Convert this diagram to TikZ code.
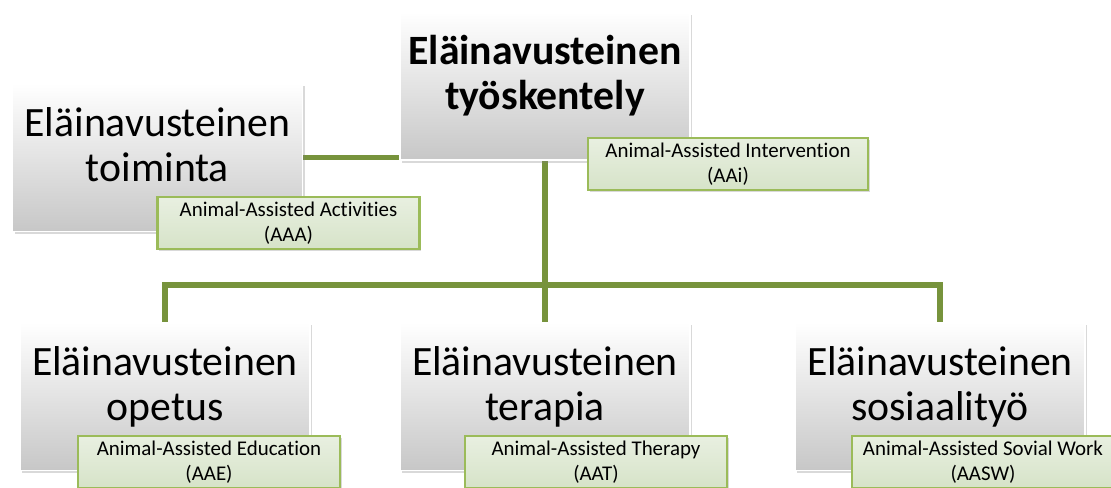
\documentclass[tikz,border=0pt]{standalone}
\usepackage{fontspec}
\setmainfont{Carlito}[Ligatures=NoCommon]
\usepackage{tikz}
\usetikzlibrary{positioning}
\usetikzlibrary{shadows}
\usetikzlibrary{backgrounds}

\definecolor{linegreen}{RGB}{119,147,60}
\definecolor{edgegreen}{RGB}{155,187,89}
\definecolor{fillgreen}{RGB}{214,227,200}

\begin{document}
\begin{tikzpicture}[x=0.75pt,y=0.75pt,
                    main node/.style={rectangle,draw=white,line width=0.8pt,
                            top color=white,bottom color=black!22,
                            drop shadow={shadow xshift=1.5pt,shadow yshift=-2.2pt,opacity=0.3},
                            font=\fontsize{31.3}{33.75}\selectfont,align=center,
                            minimum width=217.5pt,minimum height=111pt,inner sep=0pt,
                            text height=56.25pt,text depth=20.25pt},
                    name node/.style={rectangle,draw=edgegreen,line width=1.6pt,
                            top color=fillgreen!55!white,bottom color=fillgreen,
                            drop shadow={shadow xshift=1.2pt,shadow yshift=-1.8pt,opacity=0.3},
                            font=\fontsize{15.7}{18.75}\selectfont,align=center,
                            minimum width=196.5pt,minimum height=39pt,inner sep=0pt},
                    link/.style={draw=linegreen,line width=4.2pt}]

                \useasboundingbox (0,0) rectangle (1111,-488);

                \node[main node,font=\fontsize{31.3}{33.75}\selectfont\bfseries] (main) at (545,-86) {Eläinavusteinen\\työskentely};
                \node[main node] (toiminta) at (157.5,-157.5) {Eläinavusteinen\\toiminta};
                \node[main node] (opetus) at (165,-396.5) {Eläinavusteinen\\opetus};
                \node[main node] (terapia) at (545,-396.5) {Eläinavusteinen\\terapia};
                \node[main node] (sosiaali) at (940,-396.5) {Eläinavusteinen\\sosiaalityö};

                \node[name node,minimum width=210pt] (aai) at (728,-164) {Animal-Assisted Intervention\\(AAi)};
                \node[name node] (aaa) at (288.5,-223) {Animal-Assisted Activities\\(AAA)};
                \node[name node] (aae) at (209,-462) {Animal-Assisted Education\\(AAE)};
                \node[name node] (aat) at (596,-462) {Animal-Assisted Therapy\\(AAT)};
                \node[name node] (aasw) at (983,-462) {Animal-Assisted Sovial Work\\(AASW)};

                \coordinate (bus) at (545,-285);

                \begin{scope}[on background layer]
                \draw[link] (toiminta.east) -- (toiminta.east -| main.south);
                \draw[link] (main.south) -- (terapia.north);
                \draw[link] (opetus.north) |- (bus) -| (sosiaali.north);
                \end{scope}
            \end{tikzpicture}
\end{document}
